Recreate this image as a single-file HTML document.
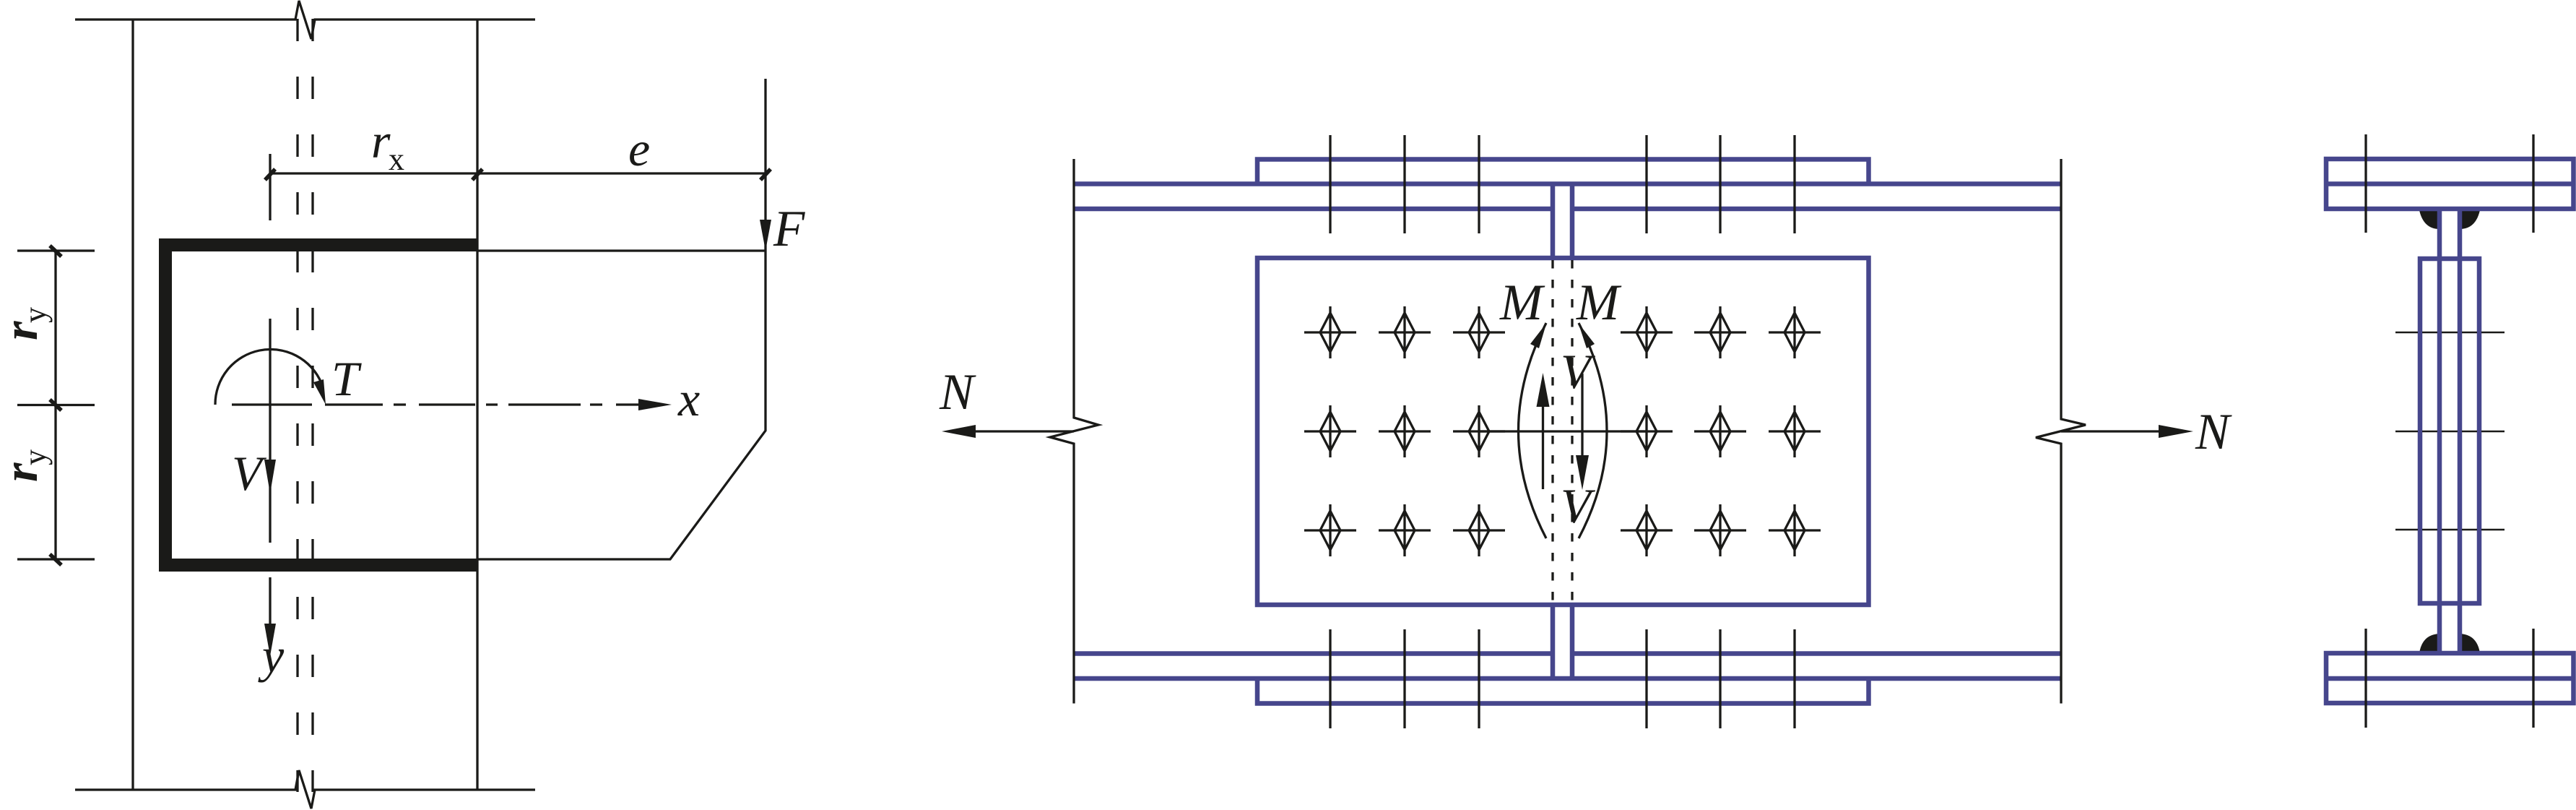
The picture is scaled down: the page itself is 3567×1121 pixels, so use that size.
<!DOCTYPE html>
<html><head><meta charset="utf-8"><style>
html,body{margin:0;padding:0;background:#fff}
svg{display:block}
text{font-family:"Liberation Serif",serif;fill:#1a1a18}
.i{font-style:italic;font-size:68px}
.n{font-style:italic;font-size:71px}
.s{font-size:44px}
.k{stroke:#1a1a18;stroke-width:3.3;fill:none}
.t{stroke:#1a1a18;stroke-width:5.5;fill:none}
.b{stroke:#46468c;stroke-width:6.5;fill:none}
.f{fill:#1a1a18;stroke:none}
</style></head><body>
<svg width="3567" height="1121" viewBox="0 0 3567 1121" xmlns="http://www.w3.org/2000/svg">
<rect width="3567" height="1121" fill="#fff"/>
<defs>
<g id="bolt"><path class="k" d="M-36 0H36M0 -36V36M0 -27L14 0L0 27L-14 0Z"/></g>
</defs>

<!-- LEFT DIAGRAM -->
<path class="k" d="M104 27H409L414 1L431 54L436 27H741"/>
<path class="k" d="M104 1093H409L414 1066L431 1119L436 1093H741"/>
<path class="k" d="M184 27V1093M661 27V1093"/>
<path class="k" stroke-dasharray="31 49" d="M412 26V1096M433 26V1096"/>
<path d="M661 339H229V782H661" fill="none" stroke="#1a1a18" stroke-width="18" stroke-linejoin="miter"/>
<path class="k" d="M374 240H1060M374 213V305M374 441V751M374 799V870"/>
<path class="k" d="M1060 109V596L928 774H661M661 347H1060"/>
<path class="k" d="M24 347H131M24 560.500H131M24 774H131M77 347V774"/>
<path class="t" d="M367 249L381 234M654 249L668 234M1053 249L1067 234M69 340L85 355M69 553L85 568M69 767L85 782"/>
<path class="k" d="M321 560H432M450 560H530M545 560H562M580 560H658M673 560H689M704 560H804M817 560H834M853 560H890"/>
<path class="k" d="M298 560A76.500 76 0 0 1 445 530"/>
<polygon class="f" points="451,560 434,529 448,525"/>
<polygon class="f" points="930,560 884,552 884,568"/>
<polygon class="f" points="374,683 366,636 382,636"/>
<polygon class="f" points="374,908 366,863 382,863"/>
<polygon class="f" points="1060,347 1052,304 1068,304"/>
<text class="i" x="514" y="218">r</text><text class="s" x="538" y="235">x</text>
<text class="i" x="870" y="229">e</text>
<text class="n" x="1071" y="340">F</text>
<text class="i" x="459" y="547">T</text>
<text class="i" x="939" y="575">x</text>
<text class="i" x="321" y="678">V</text>
<text class="i" x="363" y="930">y</text>
<text class="i" transform="translate(51 471) rotate(-90)" font-weight="bold">r</text>
<text class="s" transform="translate(63 447) rotate(-90)">y</text>
<text class="i" transform="translate(51 667) rotate(-90)" font-weight="bold">r</text>
<text class="s" transform="translate(63 644) rotate(-90)">y</text>

<!-- MIDDLE DIAGRAM -->
<path class="b" d="M1487 254.500H2854M1487 289H2147M2180 289H2854"/>
<path class="b" d="M1741 255V220.500H2587.500V255"/>
<path class="b" d="M2150 255V357M2177 255V357"/>
<path class="b" d="M1741 357H2587.500V837H1741Z"/>
<path class="b" d="M2150 837V939M2177 837V939"/>
<path class="b" d="M1487 904.500H2147M2180 904.500H2854M1487 939H2854"/>
<path class="b" d="M1741 939V973.500H2587.500V939"/>
<path class="k" d="M1487 220V578L1521 588L1454 605L1487 614V973.500"/>
<path class="k" d="M2854 220V580L2888 588L2819 605.500L2854 614V973.500"/>
<path class="k" d="M1345 597H1487M2854 597H2995"/>
<polygon class="f" points="1304,597 1351,588 1351,606"/>
<polygon class="f" points="3037,597 2989,588 2989,606"/>
<path class="k" d="M1842 187V323M1945 187V323M2048 187V323M2280 187V323M2382 187V323M2485 187V323"/>
<path class="k" d="M1842 871V1008M1945 871V1008M2048 871V1008M2280 871V1008M2382 871V1008M2485 871V1008"/>
<use href="#bolt" x="1842" y="460"/><use href="#bolt" x="1945" y="460"/><use href="#bolt" x="2048" y="460"/>
<use href="#bolt" x="2280" y="460"/><use href="#bolt" x="2382" y="460"/><use href="#bolt" x="2485" y="460"/>
<use href="#bolt" x="1842" y="597"/><use href="#bolt" x="1945" y="597"/><use href="#bolt" x="2048" y="597"/>
<use href="#bolt" x="2280" y="597"/><use href="#bolt" x="2382" y="597"/><use href="#bolt" x="2485" y="597"/>
<use href="#bolt" x="1842" y="734"/><use href="#bolt" x="1945" y="734"/><use href="#bolt" x="2048" y="734"/>
<use href="#bolt" x="2280" y="734"/><use href="#bolt" x="2382" y="734"/><use href="#bolt" x="2485" y="734"/>
<path class="k" d="M2048 597H2280"/>
<path class="k" stroke-dasharray="11.500 15.500" d="M2150 360V835M2177 360V835"/>
<path class="k" d="M2141 745Q2064 597 2141 447M2186 745Q2264 597 2186 447"/>
<polygon class="f" points="2141.500,447 2119,476 2131,482"/>
<polygon class="f" points="2185.500,447 2208,476 2197,482"/>
<path class="k" d="M2136.500 677V560M2191 517V635"/>
<polygon class="f" points="2136.500,516 2127.500,563 2145.500,563"/>
<polygon class="f" points="2191,678 2182,630 2200,630"/>
<text class="n" x="2077" y="442">M</text>
<text class="n" x="2183" y="442">M</text>
<text class="i" x="2161" y="537">V</text>
<text class="i" x="2161" y="723">V</text>
<text class="n" x="1301" y="566">N</text>
<text class="n" x="3040" y="621">N</text>

<!-- RIGHT DIAGRAM -->
<path class="f" d="M3350 291Q3356 317 3378 317V291Z"/>
<path class="f" d="M3434 291Q3428 317 3406 317V291Z"/>
<path class="f" d="M3350 904Q3354 878 3378 877V904Z"/>
<path class="f" d="M3434 904Q3430 878 3406 877V904Z"/>
<path class="b" d="M3221 220H3563.500V289H3221ZM3221 254.500H3563.500"/>
<path class="b" d="M3221 904H3563.500V973H3221ZM3221 939H3563.500"/>
<path class="b" d="M3351 358H3433V835H3351Z"/>
<path class="b" d="M3378 289V904M3406 289V904"/>
<path class="k" d="M3276 186V322M3508 186V322M3276 870V1007M3508 870V1007"/>
<path class="k" style="stroke-width:2.500" d="M3317 460H3348M3354 460H3375M3381 460H3403M3409 460H3430M3436 460H3468"/>
<path class="k" style="stroke-width:2.500" d="M3317 597H3348M3354 597H3375M3381 597H3403M3409 597H3430M3436 597H3468"/>
<path class="k" style="stroke-width:2.500" d="M3317 733H3348M3354 733H3375M3381 733H3403M3409 733H3430M3436 733H3468"/>
</svg>
</body></html>
